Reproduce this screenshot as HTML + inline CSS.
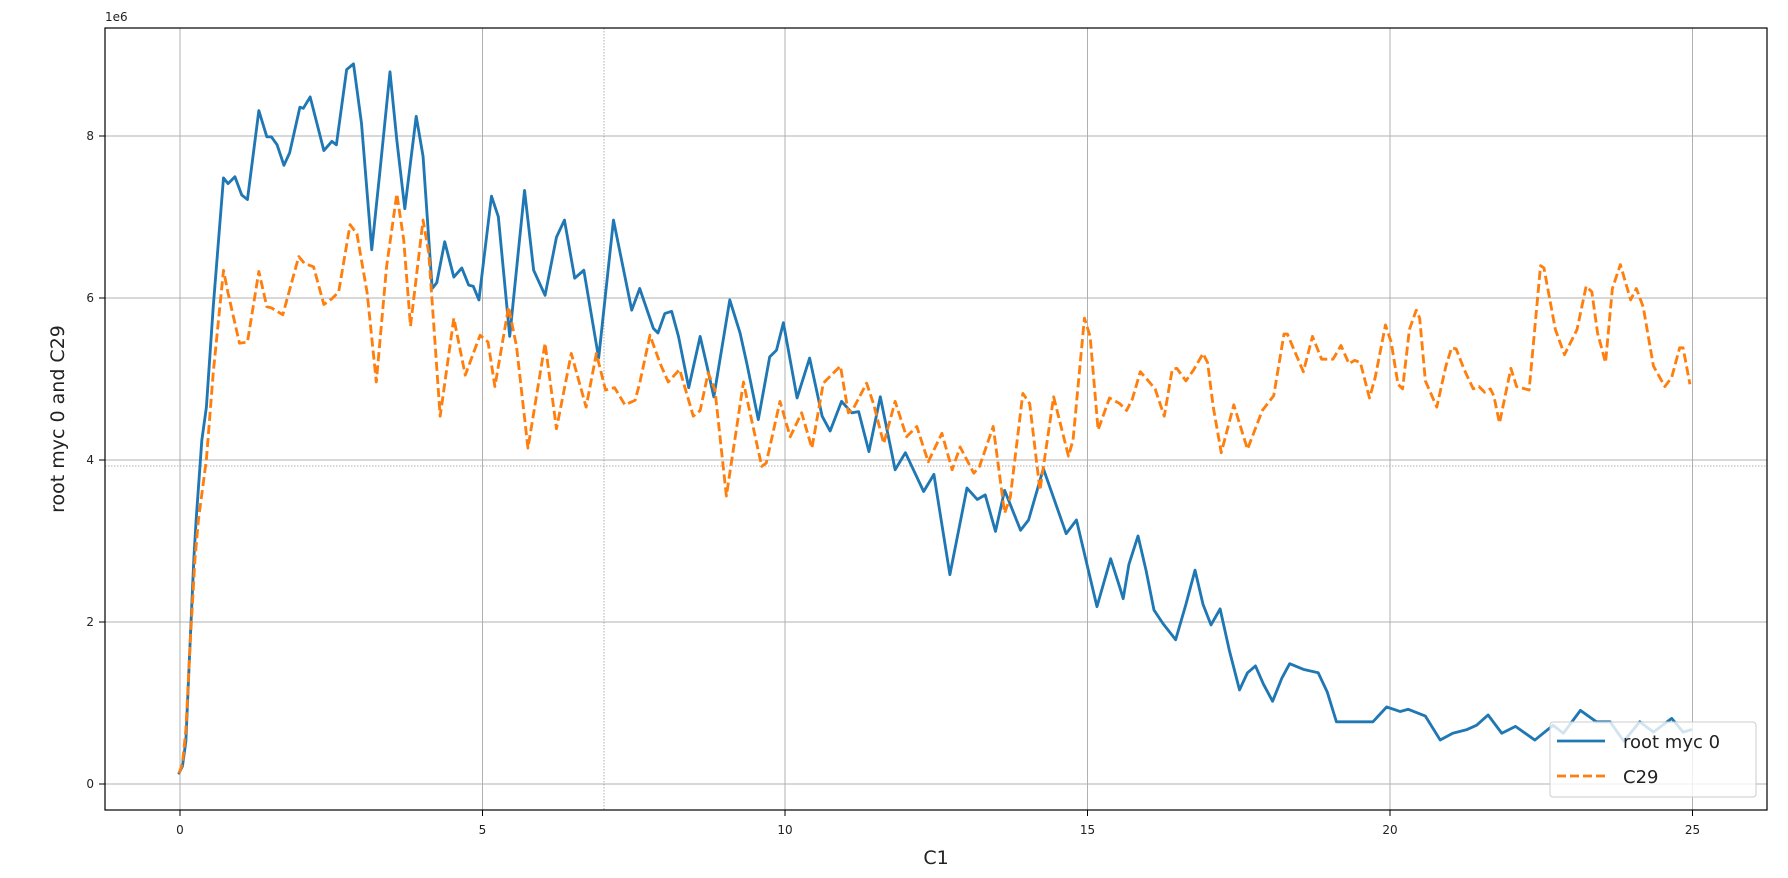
<!DOCTYPE html>
<html><head><meta charset="utf-8"><style>
html,body{margin:0;padding:0;background:#fff;}
svg{display:block;font-family:"DejaVu Sans","Liberation Sans",sans-serif;}
</style></head><body>
<svg width="1788" height="878" viewBox="0 0 1788 878" xmlns="http://www.w3.org/2000/svg">
<defs><clipPath id="c"><rect x="105" y="28" width="1662" height="782"/></clipPath></defs>
<rect x="0" y="0" width="1788" height="878" fill="#fff"/>
<g stroke="#b0b0b0" stroke-width="1" fill="none">
<line x1="180" y1="28" x2="180" y2="810"/><line x1="482.5" y1="28" x2="482.5" y2="810"/><line x1="785" y1="28" x2="785" y2="810"/><line x1="1087.5" y1="28" x2="1087.5" y2="810"/><line x1="1390" y1="28" x2="1390" y2="810"/><line x1="1692.5" y1="28" x2="1692.5" y2="810"/>
<line x1="105" y1="784" x2="1767" y2="784"/><line x1="105" y1="622" x2="1767" y2="622"/><line x1="105" y1="460" x2="1767" y2="460"/><line x1="105" y1="298" x2="1767" y2="298"/><line x1="105" y1="136" x2="1767" y2="136"/>
</g>
<g stroke="#999" stroke-width="0.8" stroke-dasharray="1.5,1.5" fill="none">
<line x1="604" y1="28" x2="604" y2="810"/><line x1="105" y1="466" x2="1767" y2="466"/>
</g>
<g clip-path="url(#c)"><g transform="scale(1.1403)" fill="none" stroke-linejoin="round" stroke-linecap="round">
<polyline stroke="#1f77b4" stroke-width="2.5" points="157,678 160,672 163,650 166,580 170,490 172,456 177,386 181,357 187,269 196,156 200,161 206,155 212,171 217,175 227,97 234,120 238,120 243,127 249,145 254,134 263,94 266,95 272,85 284,132 291,124 295,127 304,61 310,56 317,108 326,219 333,152 342,63 348,123 355,183 365,102 371,137 379,253 383,248 390,212 398,243 405,235 411,250 415,251 420,263 431,172 437,190 447,295 460,167 468,237 478,259 488,208 495,193 504,244 512,237 525,314 538,193 554,272 561,253 573,288 577,292 583,275 589,273 595,295 604,340 614,295 620,321 626,348 640,263 649,292 655,319 665,368 675,313 681,307 687,283 699,349 710,314 721,365 728,378 738,352 747,362 753,361 762,396 772,348 785,412 794,397 810,431 819,416 833,504 848,428 857,438 864,434 873,466 881,430 895,465 902,456 915,411 935,468 944,456 962,532 974,490 982,515 985,525 990,495 998,470 1005,500 1012,535 1020,547 1031,561 1040,530 1048,500 1055,530 1062,548 1070,534 1078,570 1087,605 1094,590 1101,584 1108,600 1116,615 1124,595 1131,582 1143,587 1156,590 1164,607 1172,633 1182,633 1204,633 1216,620 1228,624 1235,622 1250,628 1263,649 1274,643 1286,640 1295,636 1305,627 1317,643 1329,637 1346,649 1362,636 1371,643 1386,623 1400,633 1412,633 1424,650 1438,633 1450,642 1466,630 1476,642 1483,640"/>
<polyline stroke="#ff7f0e" stroke-width="2.5" stroke-linecap="butt" stroke-dasharray="8,3.5" points="157,678 160,670 163,640 167,560 171,490 174,456 181,403 187,327 196,237 200,257 210,301 217,300 227,238 234,269 238,270 248,276 262,225 267,231 275,234 284,267 291,262 297,256 307,197 313,205 322,257 330,335 339,234 348,170 354,210 360,286 371,193 376,222 386,365 398,279 408,329 421,294 428,300 434,339 446,269 453,304 463,393 478,301 488,376 501,310 514,357 523,310 531,342 539,340 548,355 557,351 561,336 570,294 579,319 586,335 596,324 608,365 614,360 621,327 627,342 637,435 643,395 652,335 656,354 668,409 672,406 684,352 693,383 703,362 712,393 722,336 737,321 744,362 748,359 760,336 766,354 775,389 785,352 795,383 804,374 814,405 826,380 835,412 842,392 854,415 859,409 871,374 881,450 886,436 897,345 903,354 912,430 924,348 937,400 941,386 951,279 956,295 963,377 973,349 982,354 988,360 993,350 1000,326 1007,334 1013,341 1021,365 1028,324 1032,323 1040,334 1047,324 1055,310 1059,318 1064,357 1071,397 1082,355 1094,394 1107,360 1117,347 1126,293 1129,293 1143,326 1151,295 1159,315 1169,315 1176,303 1183,319 1188,316 1193,318 1201,349 1206,331 1215,285 1220,300 1226,337 1230,341 1236,289 1242,272 1245,279 1250,334 1260,357 1268,321 1273,305 1277,306 1284,324 1292,341 1297,339 1302,344 1307,341 1310,347 1315,371 1320,347 1325,323 1330,339 1341,342 1351,233 1354,235 1364,289 1372,311 1383,289 1391,251 1396,256 1401,292 1408,318 1414,253 1421,232 1430,263 1435,253 1441,269 1450,321 1460,339 1466,331 1473,305 1476,305 1482,337"/>
</g></g>
<rect x="105" y="28" width="1662" height="782" fill="none" stroke="#000" stroke-width="1.2"/>
<g stroke="#000" stroke-width="1">
<line x1="180" y1="810" x2="180" y2="816"/><line x1="482.5" y1="810" x2="482.5" y2="816"/><line x1="785" y1="810" x2="785" y2="816"/><line x1="1087.5" y1="810" x2="1087.5" y2="816"/><line x1="1390" y1="810" x2="1390" y2="816"/><line x1="1692.5" y1="810" x2="1692.5" y2="816"/>
<line x1="99" y1="784" x2="105" y2="784"/><line x1="99" y1="622" x2="105" y2="622"/><line x1="99" y1="460" x2="105" y2="460"/><line x1="99" y1="298" x2="105" y2="298"/><line x1="99" y1="136" x2="105" y2="136"/>
</g>
<g font-size="12" fill="#222" text-anchor="middle">
<text x="180" y="834">0</text><text x="482.5" y="834">5</text><text x="785" y="834">10</text><text x="1087.5" y="834">15</text><text x="1390" y="834">20</text><text x="1692.5" y="834">25</text>
</g>
<g font-size="12" fill="#222" text-anchor="end">
<text x="94" y="788">0</text><text x="94" y="626">2</text><text x="94" y="464">4</text><text x="94" y="302">6</text><text x="94" y="140">8</text>
</g>
<text x="105" y="21" font-size="12" fill="#222">1e6</text>
<text x="936" y="864" font-size="19" fill="#222" text-anchor="middle">C1</text>
<text transform="translate(64,419) rotate(-90)" font-size="19" fill="#222" text-anchor="middle">root myc 0 and C29</text>
<rect x="1550" y="722" width="206" height="75" rx="3" fill="#fff" fill-opacity="0.8" stroke="#ccc" stroke-width="1"/>
<line x1="1557" y1="741" x2="1605" y2="741" stroke="#1f77b4" stroke-width="2.8"/>
<line x1="1557" y1="776" x2="1605" y2="776" stroke="#ff7f0e" stroke-width="2.8" stroke-dasharray="9,4"/>
<text x="1623" y="748" font-size="18" fill="#222">root myc 0</text>
<text x="1623" y="783" font-size="18" fill="#222">C29</text>
</svg>
</body></html>
